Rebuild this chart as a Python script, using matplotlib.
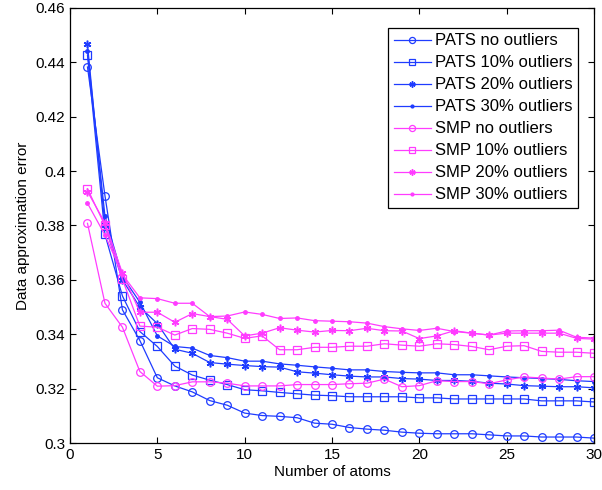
import matplotlib
matplotlib.use("Agg")
import matplotlib.pyplot as plt
from matplotlib.ticker import FuncFormatter

plt.rcParams['font.family'] = ['Liberation Sans', 'DejaVu Sans']

atoms = list(range(1, 31))

pats_0 = [0.4383, 0.391, 0.349, 0.3377, 0.324, 0.321, 0.3188, 0.3156, 0.3139, 0.311,
          0.3101, 0.3098, 0.3093, 0.3073, 0.3069, 0.3057, 0.3051, 0.3047, 0.3040, 0.3036,
          0.3034, 0.3034, 0.3034, 0.3030, 0.3026, 0.3026, 0.3022, 0.3022, 0.3022, 0.3018]
pats_10 = [0.4426, 0.3767, 0.3541, 0.341, 0.3355, 0.3283, 0.325, 0.3231, 0.3215, 0.3196,
           0.3192, 0.3186, 0.3181, 0.3176, 0.3174, 0.317, 0.317, 0.317, 0.317, 0.3166,
           0.3166, 0.3162, 0.3162, 0.3162, 0.3162, 0.3162, 0.3155, 0.3155, 0.3155, 0.3151]
pats_20 = [0.4466, 0.380, 0.360, 0.350, 0.3439, 0.3345, 0.3330, 0.3296, 0.329, 0.3285,
           0.3281, 0.3279, 0.3262, 0.3257, 0.3251, 0.3246, 0.3243, 0.3243, 0.3237, 0.3235,
           0.323, 0.323, 0.3227, 0.322, 0.3217, 0.3211, 0.3209, 0.3207, 0.3207, 0.3203]
pats_30 = [0.4440, 0.3835, 0.3612, 0.3518, 0.3394, 0.3355, 0.3349, 0.3322, 0.3314, 0.3301,
           0.3301, 0.3291, 0.3286, 0.328, 0.3275, 0.3269, 0.3269, 0.3263, 0.3260, 0.3258,
           0.3258, 0.3251, 0.3251, 0.3247, 0.3243, 0.324, 0.3237, 0.3234, 0.3229, 0.3226]
smp_0 = [0.3808, 0.3514, 0.3426, 0.3263, 0.3209, 0.3211, 0.3225, 0.3225, 0.322, 0.321,
         0.321, 0.321, 0.3215, 0.3215, 0.3215, 0.3218, 0.322, 0.3235, 0.3207, 0.3211,
         0.3229, 0.3226, 0.3226, 0.3218, 0.3232, 0.3243, 0.3239, 0.3235, 0.3244, 0.3244]
smp_10 = [0.3935, 0.380, 0.3602, 0.343, 0.3426, 0.3397, 0.3421, 0.3418, 0.3404, 0.3385,
          0.3394, 0.3343, 0.3343, 0.3352, 0.3352, 0.3356, 0.3356, 0.3365, 0.336, 0.3356,
          0.3365, 0.3362, 0.3355, 0.3343, 0.3356, 0.3358, 0.3337, 0.3334, 0.3334, 0.333]
smp_20 = [0.3925, 0.381, 0.3625, 0.3481, 0.3481, 0.3444, 0.3476, 0.3465, 0.3455, 0.3394,
          0.3404, 0.3424, 0.3415, 0.3408, 0.3414, 0.3413, 0.3422, 0.3413, 0.3412, 0.3384,
          0.3394, 0.3413, 0.3404, 0.3397, 0.3404, 0.3404, 0.3404, 0.3404, 0.3385, 0.3382]
smp_30 = [0.3882, 0.3765, 0.362, 0.3534, 0.3531, 0.3514, 0.3514, 0.3465, 0.3467, 0.3482,
          0.3473, 0.3458, 0.346, 0.345, 0.3448, 0.3446, 0.3441, 0.3428, 0.342, 0.3414,
          0.3422, 0.341, 0.3404, 0.3397, 0.3412, 0.3413, 0.3413, 0.3415, 0.3389, 0.3386]

blue = '#1f3cff'
magenta = '#ff3cff'

series = [
    ("PATS no outliers", pats_0, blue, 'o'),
    ("PATS 10% outliers", pats_10, blue, 's'),
    ("PATS 20% outliers", pats_20, blue, '*'),
    ("PATS 30% outliers", pats_30, blue, '.'),
    ("SMP no outliers", smp_0, magenta, 'o'),
    ("SMP 10% outliers", smp_10, magenta, 's'),
    ("SMP 20% outliers", smp_20, magenta, '*'),
    ("SMP 30% outliers", smp_30, magenta, '.'),
]

fig = plt.figure(figsize=(6.02, 4.9), dpi=100)
ax = fig.add_axes([0.1163, 0.0959, 0.8704, 0.8878])

for label, vals, col, mk in series:
    if mk in ('o', 's'):
        ax.plot(atoms, vals, color=col, marker=mk, markersize=5.5, markerfacecolor='none',
                markeredgecolor=col, markeredgewidth=0.9, linewidth=0.9, label=label)
    elif mk == '*':
        # MATLAB style asterisk (six spokes) instead of a filled star
        ax.plot(atoms, vals, color=col, marker=(6, 2, 0), markersize=5.5,
                markeredgewidth=1.1, linewidth=0.9, label=label)
    else:
        ax.plot(atoms, vals, color=col, marker=mk, markersize=5, linewidth=0.9, label=label)

ax.set_xlim(0, 30)
ax.set_ylim(0.30, 0.46)
ax.set_xticks(range(0, 31, 5))
ax.set_yticks([0.30, 0.32, 0.34, 0.36, 0.38, 0.40, 0.42, 0.44, 0.46])
ax.yaxis.set_major_formatter(FuncFormatter(lambda v, p: ('%.2f' % v).rstrip('0')))
ax.tick_params(direction='in', top=True, right=True, labelsize=11, length=4, width=0.8)
for sp in ax.spines.values():
    sp.set_linewidth(0.9)

ax.set_xlabel("Number of atoms", fontsize=11, labelpad=2)
ax.set_ylabel("Data approximation error", fontsize=11, labelpad=4)

leg = ax.legend(loc='upper right', bbox_to_anchor=(0.97, 0.955), fontsize=12,
                fancybox=False, framealpha=1, edgecolor='black', handlelength=2.2,
                borderpad=0.35, labelspacing=0.42, handletextpad=0.25, borderaxespad=0,
                markerscale=0.8)
leg.get_frame().set_linewidth(0.9)

fig.savefig("out.png", dpi=100)
